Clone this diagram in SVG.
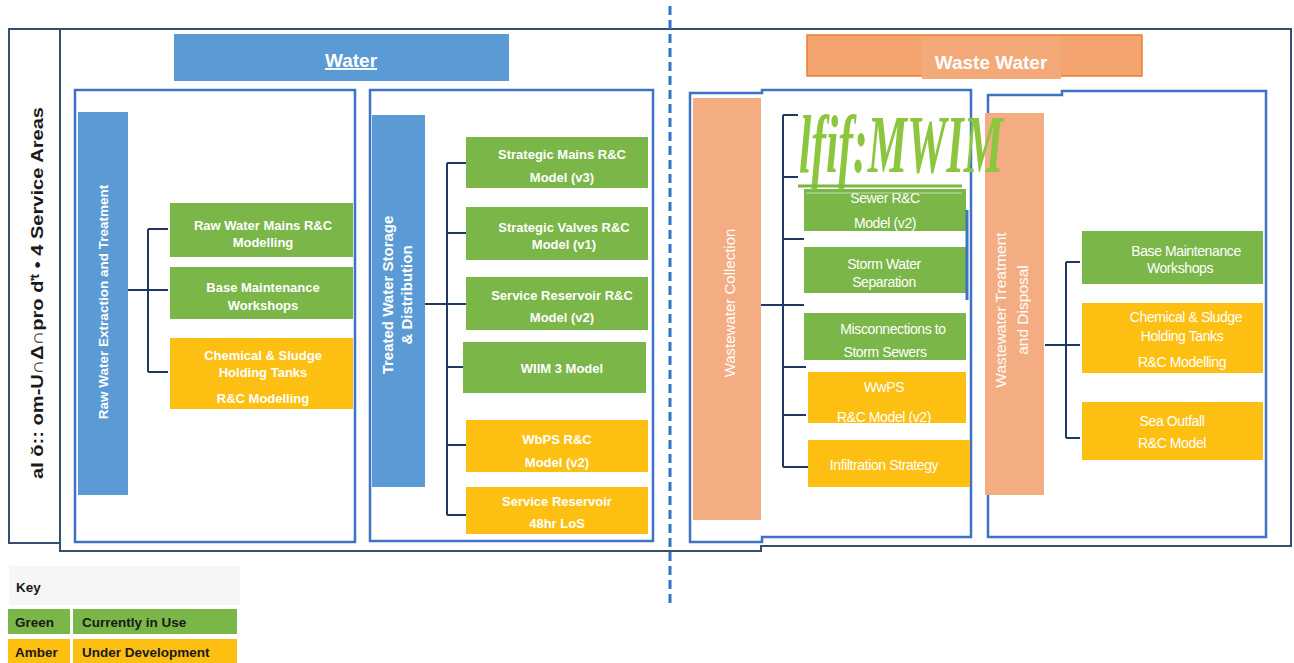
<svg xmlns="http://www.w3.org/2000/svg" width="1294" height="663" viewBox="0 0 1294 663">
<style>
.frame{fill:none;stroke:#34506e;stroke-width:2}
.panel{fill:none;stroke:#3d72c4;stroke-width:2.5}
.bb{fill:#5b9bd5}
.ob{fill:#f4ad82}
.g{fill:#7ab648}
.a{fill:#fdbf12}
.t{font-family:"Liberation Sans",Arial,sans-serif;font-size:13px;font-weight:bold;fill:#fff;text-anchor:middle}
.t2{font-family:"Liberation Sans",Arial,sans-serif;font-size:14px;fill:#fff;text-anchor:middle;letter-spacing:-0.4px}
.vt{font-family:"Liberation Sans",Arial,sans-serif;fill:#fff;text-anchor:middle}
.conn{stroke:#1f3864;stroke-width:2;fill:none}
.k{font-family:"Liberation Sans",Arial,sans-serif;font-size:13.5px;font-weight:bold;fill:#1a1a1a}
</style>
<defs>
<clipPath id="wwclip"><rect x="800" y="30" width="261" height="60"/></clipPath>
</defs>
<rect width="1294" height="663" fill="#fff"/>

<g id="frame">
<rect x="9" y="29" width="51" height="514" class="frame"/>
<path class="frame" d="M60,29 H1291 V546 H761 V551 H60 Z"/>
<line x1="670" y1="6" x2="670" y2="606" stroke="#2e75c6" stroke-width="3" stroke-dasharray="9,5"/>
</g>

<g id="side-title">
<text transform="translate(43,293) rotate(-90)" font-family="'Liberation Sans',Arial,sans-serif" font-size="17" font-weight="bold" fill="#1a1a1a" text-anchor="middle" textLength="372" lengthAdjust="spacingAndGlyphs">aI ŏ:: om-U∩Δ∩pro ďᵗ • 4 Service Areas</text>
</g>

<g id="title-water">
<rect x="174" y="34" width="335" height="47" fill="#5b9bd5"/>
<text x="351" y="67" font-family="'Liberation Sans',Arial,sans-serif" font-size="19" font-weight="bold" fill="#fff" text-anchor="middle" text-decoration="underline">Water</text>
</g>

<g id="title-wastewater">
<rect x="807" y="35" width="335" height="41" fill="#f4a56f" stroke="#ed7d31" stroke-width="1.5"/>
<rect x="922" y="36" width="139" height="43" fill="#f3a978"/>
<text x="991" y="69" clip-path="url(#wwclip)" font-family="'Liberation Sans',Arial,sans-serif" font-size="19" font-weight="bold" fill="#fff" text-anchor="middle">Waste Water</text>
</g>

<g id="panel-raw">
<rect x="75" y="90" width="280" height="452" class="panel"/>
<rect x="78" y="112" width="50" height="383" class="bb"/>
<text class="vt" font-size="13.5" font-weight="bold" transform="translate(108,302) rotate(-90)">Raw Water Extraction and Treatment</text>
</g>
<g id="raw-mains">
<rect x="170" y="203" width="183" height="54" class="g"/>
<text class="t" x="263" y="230">Raw Water  Mains R&amp;C</text>
<text class="t" x="263" y="247">Modelling</text>
</g>
<g id="raw-base">
<rect x="170" y="267" width="183" height="52" class="g"/>
<text class="t" x="263" y="292">Base Maintenance</text>
<text class="t" x="263" y="310">Workshops</text>
</g>
<g id="raw-chem">
<rect x="170" y="338" width="183" height="71" class="a"/>
<text class="t" x="263" y="360">Chemical &amp; Sludge</text>
<text class="t" x="263" y="377">Holding Tanks</text>
<text class="t" x="263" y="403">R&amp;C Modelling</text>
</g>

<g id="panel-treated">
<rect x="370" y="90" width="283" height="451" class="panel"/>
<rect x="372" y="115" width="53" height="372" class="bb"/>
<text class="vt" font-size="15" font-weight="bold" transform="translate(398,295) rotate(-90)"><tspan x="0" y="-5">Treated Water Storage</tspan><tspan x="0" y="14">&amp; Distribution</tspan></text>
</g>
<g id="tw-mains">
<rect x="466" y="137" width="182" height="51" class="g"/>
<text class="t" x="562" y="159">Strategic Mains R&amp;C</text>
<text class="t" x="562" y="182">Model (v3)</text>
</g>
<g id="tw-valves">
<rect x="466" y="207" width="182" height="53" class="g"/>
<text class="t" x="564" y="232">Strategic Valves R&amp;C</text>
<text class="t" x="564" y="249">Model (v1)</text>
</g>
<g id="tw-sr">
<rect x="466" y="277" width="182" height="53" class="g"/>
<text class="t" x="562" y="300">Service Reservoir R&amp;C</text>
<text class="t" x="562" y="322">Model (v2)</text>
</g>
<g id="tw-wiim">
<rect x="463" y="342" width="183" height="51" class="g"/>
<text class="t" x="562" y="373">WIIM 3  Model</text>
</g>
<g id="tw-wbps">
<rect x="466" y="420" width="182" height="52" class="a"/>
<text class="t" x="557" y="444">WbPS R&amp;C</text>
<text class="t" x="557" y="467">Model (v2)</text>
</g>
<g id="tw-sr48">
<rect x="466" y="487" width="182" height="47" class="a"/>
<text class="t" x="557" y="506">Service Reservoir</text>
<text class="t" x="557" y="528">48hr LoS</text>
</g>

<g id="panel-collection">
<path class="panel" d="M690,93 H762 V90 H971 V537 H762 V542 H690 Z"/>
<rect x="693" y="98" width="68" height="422" class="ob"/>
<text class="vt" font-size="15" transform="translate(730,303) rotate(-90)" dy="5">Wastewater Collection</text>
</g>
<g id="wc-sewer">
<rect x="804" y="189" width="162" height="42" class="g"/>
<text class="t2" x="885" y="203">Sewer R&amp;C</text>
<text class="t2" x="885" y="228">Model  (v2)</text>
</g>
<g id="wc-storm">
<rect x="804" y="247" width="162" height="46" class="g"/>
<text class="t2" x="884" y="269">Storm Water</text>
<text class="t2" x="884" y="287">Separation</text>
</g>
<g id="wc-misc">
<rect x="804" y="313" width="162" height="47" class="g"/>
<text class="t2" x="893" y="334">Misconnections to</text>
<text class="t2" x="885" y="357">Storm Sewers</text>
</g>
<g id="wc-wwps">
<rect x="808" y="372" width="158" height="51" class="a"/>
<text class="t2" x="884" y="392">WwPS</text>
<text class="t2" x="884" y="422">R&amp;C Model (v2)</text>
</g>
<g id="wc-infil">
<rect x="808" y="440" width="162" height="47" class="a"/>
<text class="t2" x="884" y="470">Infiltration Strategy</text>
</g>

<g id="panel-treatment">
<path class="panel" d="M988,95 H1062 V91 H1266 V537 H988 Z"/>
<rect x="985" y="113" width="59" height="382" class="ob"/>
<text class="vt" font-size="15.5" transform="translate(1015,310) rotate(-90)"><tspan x="0" y="-9">Wastewater Treatment</tspan><tspan x="0" y="13">and Disposal</tspan></text>
</g>
<g id="wt-base">
<rect x="1082" y="231" width="181" height="53" class="g"/>
<text class="t2" x="1186" y="256">Base Maintenance</text>
<text class="t2" x="1180" y="273">Workshops</text>
</g>
<g id="wt-chem">
<rect x="1082" y="303" width="181" height="70" class="a"/>
<text class="t2" x="1186" y="322">Chemical &amp; Sludge</text>
<text class="t2" x="1182" y="341">Holding Tanks</text>
<text class="t2" x="1182" y="367">R&amp;C Modelling</text>
</g>
<g id="wt-sea">
<rect x="1082" y="402" width="181" height="58" class="a"/>
<text class="t2" x="1172" y="426">Sea Outfall</text>
<text class="t2" x="1172" y="448">R&amp;C Model</text>
</g>

<g id="connectors">
<path class="conn" d="M128,290 H148 M148,229 V372 M148,229 H168 M148,290 H168 M148,372 H168"/>
<path class="conn" d="M447,163 V515 M447,163 H466 M447,233 H466 M447,367 H463 M447,445 H466 M447,515 H466"/>
<path class="conn" stroke-width="4" d="M425,304 H466"/>
<path class="conn" d="M783,115 V467 M783,115 H798 M783,177 H798 M783,415 H806 M783,467 H808"/>
<path class="conn" stroke-width="3" d="M761,305 H804 M783,239 H804 M783,367 H806"/>
<path class="conn" d="M1045,345 H1080 M1066,262 V438 M1066,262 H1080 M1066,438 H1080"/>
<line x1="967" y1="210" x2="967" y2="300" stroke="#3d72c4" stroke-width="3"/>
</g>

<g id="mwim-overlay">
<text x="799" y="172" font-family="'Liberation Serif','Times New Roman',serif" font-style="italic" font-weight="bold" font-size="82" fill="#8cc63f" textLength="204" lengthAdjust="spacingAndGlyphs">lfif:MWIM</text>
<line x1="798" y1="186" x2="962" y2="186" stroke="#7ab648" stroke-width="3"/>
<line x1="806" y1="193" x2="962" y2="193" stroke="#c5e0a8" stroke-width="1"/>
</g>

<g id="key">
<rect x="9" y="566" width="231" height="39" fill="#f6f6f6"/>
<text class="k" x="16" y="592" font-size="15">Key</text>
<rect x="8" y="609" width="62" height="25" class="g"/>
<rect x="73" y="609" width="164" height="25" class="g"/>
<rect x="8" y="639" width="62" height="24" class="a"/>
<rect x="73" y="639" width="164" height="24" class="a"/>
<text class="k" x="15" y="627">Green</text>
<text class="k" x="82" y="627">Currently in Use</text>
<text class="k" x="15" y="657">Amber</text>
<text class="k" x="82" y="657">Under Development</text>
</g>
</svg>
